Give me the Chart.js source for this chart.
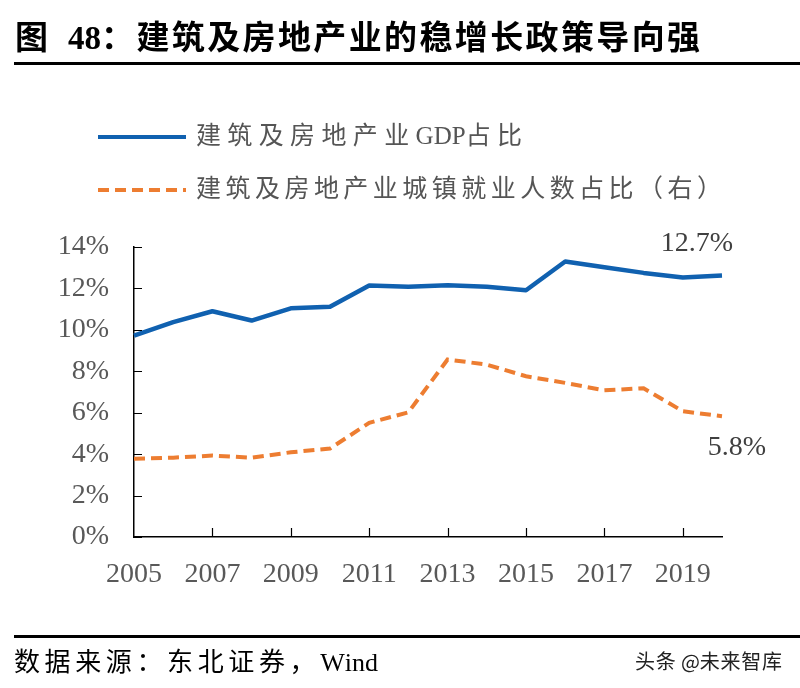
<!DOCTYPE html>
<html>
<head>
<meta charset="utf-8">
<script src="https://cdn.jsdelivr.net/npm/chart.js@4/dist/chart.umd.min.js"></script>
<style>
  html, body { margin: 0; padding: 0; background: #ffffff; }
  #c { display: block; }
</style>
</head>
<body>
<canvas id="c" width="800" height="688"></canvas>
<script>
// ---- data ----
const years = ['2005','2006','2007','2008','2009','2010','2011','2012','2013','2014','2015','2016','2017','2018','2019','2020'];
const gdpShare = [9.72, 10.37, 10.90, 10.45, 11.04, 11.12, 12.14, 12.08, 12.15, 12.08, 11.91, 13.30, 13.02, 12.75, 12.53, 12.62];
const employmentShare = [3.78, 3.83, 3.93, 3.83, 4.09, 4.27, 5.51, 6.02, 8.57, 8.32, 7.76, 7.44, 7.08, 7.18, 6.07, 5.83];
const seriesNames = ['建筑及房地产业GDP占比', '建筑及房地产业城镇就业人数占比（右）'];
const yTicks = [0, 2, 4, 6, 8, 10, 12, 14];
const endLabels = ['12.7%', '5.8%'];
const titleNo = '图';
const titleText = '48：建筑及房地产业的稳增长政策导向强';
const sourceText = '数据来源：东北证券，Wind';
const watermark = '头条 @未来智库';

const BLUE = '#1061B0';
const ORANGE = '#ED7D31';
const SERIF = "'Liberation Serif', 'Noto Sans CJK SC', serif";

function isWide(ch) { return /[\u3000-\u9fff\uff00-\uffef]/.test(ch); }

// draw text so that it ends at `right`, spreading extra room after wide (CJK) characters only
function drawFitted(ctx, text, x, y, right) {
  const chars = Array.from(text);
  const widths = chars.map(c => ctx.measureText(c).width);
  const total = widths.reduce((a, b) => a + b, 0);
  const gaps = chars.filter((c, i) => isWide(c) && i < chars.length - 1).length || 1;
  const sp = Math.max(0, (right - x - total) / gaps);
  let cx = x;
  chars.forEach((c, i) => {
    ctx.fillText(c, cx, y);
    cx += widths[i] + (isWide(c) && i < chars.length - 1 ? sp : 0);
  });
}

const decor = {
  id: 'decor',
  afterDraw(chart) {
    const ctx = chart.ctx;
    const xs = chart.scales.x, ys = chart.scales.y;
    const area = chart.chartArea;
    ctx.save();
    ctx.textBaseline = 'middle';
    ctx.textAlign = 'left';

    // title
    ctx.fillStyle = '#000';
    ctx.font = "bold 33px " + SERIF;
    ctx.fillText(titleNo, 15, 40);
    drawFitted(ctx, titleText, 68, 40, 700);

    // rules
    ctx.strokeStyle = '#000';
    ctx.lineWidth = 3;
    ctx.beginPath();
    ctx.moveTo(14, 63.5); ctx.lineTo(800, 63.5);
    ctx.moveTo(14, 636.5); ctx.lineTo(800, 636.5);
    ctx.stroke();

    // legend
    const ds = chart.data.datasets;
    const legendY = [137, 190];
    const legendRight = [522, 722];
    ds.forEach((d, i) => {
      ctx.save();
      ctx.strokeStyle = d.borderColor;
      ctx.lineWidth = 4;
      ctx.lineCap = 'butt';
      ctx.setLineDash(d.borderDash || []);
      ctx.beginPath();
      ctx.moveTo(98, legendY[i]);
      ctx.lineTo(186, legendY[i]);
      ctx.stroke();
      ctx.restore();
      ctx.fillStyle = '#555';
      ctx.font = "25px " + SERIF;
      drawFitted(ctx, d.label, 196, legendY[i], legendRight[i]);
    });

    // inward tick marks
    ctx.strokeStyle = '#000';
    ctx.lineWidth = 1.2;
    ctx.beginPath();
    ys.ticks.forEach(t => {
      const y = Math.round(ys.getPixelForValue(t.value)) + 0.5;
      ctx.moveTo(area.left, y); ctx.lineTo(area.left + 8, y);
    });
    for (let i = 2; i < years.length - 1; i += 2) {
      const x = Math.round(xs.getPixelForValue(i)) + 0.5;
      ctx.moveTo(x, area.bottom); ctx.lineTo(x, area.bottom - 9);
    }
    ctx.stroke();

    // end labels
    ctx.fillStyle = '#404040';
    ctx.font = "28px " + SERIF;
    ctx.textAlign = 'center';
    const last = years.length - 1;
    const lx = xs.getPixelForValue(last);
    ctx.fillText(endLabels[0], lx - 25, ys.getPixelForValue(gdpShare[last]) - 32);
    ctx.fillText(endLabels[1], lx + 15, ys.getPixelForValue(employmentShare[last]) + 31);

    // source
    ctx.textAlign = 'left';
    ctx.fillStyle = '#000';
    ctx.font = "26px " + SERIF;
    drawFitted(ctx, sourceText, 14, 664, 378);

    // watermark
    ctx.fillStyle = '#222';
    ctx.font = "20px 'Noto Sans CJK SC', sans-serif";
    drawFitted(ctx, watermark, 635, 661, 782);

    ctx.restore();
  }
};

new Chart(document.getElementById('c'), {
  type: 'line',
  data: {
    labels: years,
    datasets: [
      {
        label: seriesNames[0],
        data: gdpShare,
        borderColor: BLUE,
        backgroundColor: BLUE,
        borderWidth: 4.5,
        pointRadius: 0,
        tension: 0,
        borderJoinStyle: 'round'
      },
      {
        label: seriesNames[1],
        data: employmentShare,
        borderColor: ORANGE,
        backgroundColor: ORANGE,
        borderWidth: 4,
        borderDash: [11, 6],
        pointRadius: 0,
        tension: 0
      }
    ]
  },
  options: {
    responsive: false,
    animation: false,
    devicePixelRatio: 1,
    layout: { padding: { left: 0, right: 78, top: 247, bottom: 101 } },
    plugins: {
      legend: { display: false },
      tooltip: { enabled: false },
      title: { display: false }
    },
    scales: {
      x: {
        type: 'category',
        offset: false,
        grid: { display: false, drawTicks: false },
        border: { display: true, color: '#000', width: 1.5 },
        ticks: {
          autoSkip: false,
          maxRotation: 0,
          padding: 21,
          color: '#595959',
          font: { family: SERIF, size: 28 },
          callback: function (v, i) { return (i % 2 === 0 && i < years.length - 1) ? years[i] : ''; }
        },
        afterFit(scale) { scale.height = 50; }
      },
      y: {
        min: 0,
        max: 14,
        afterBuildTicks(scale) { scale.ticks = yTicks.map(v => ({ value: v })); },
        grid: { display: false, drawTicks: false },
        border: { display: true, color: '#000', width: 1.5 },
        ticks: {
          padding: 25,
          color: '#595959',
          font: { family: SERIF, size: 28 },
          callback: v => v + '%'
        },
        afterFit(scale) { scale.width = 134; }
      }
    }
  },
  plugins: [decor]
});
</script>
</body>
</html>
